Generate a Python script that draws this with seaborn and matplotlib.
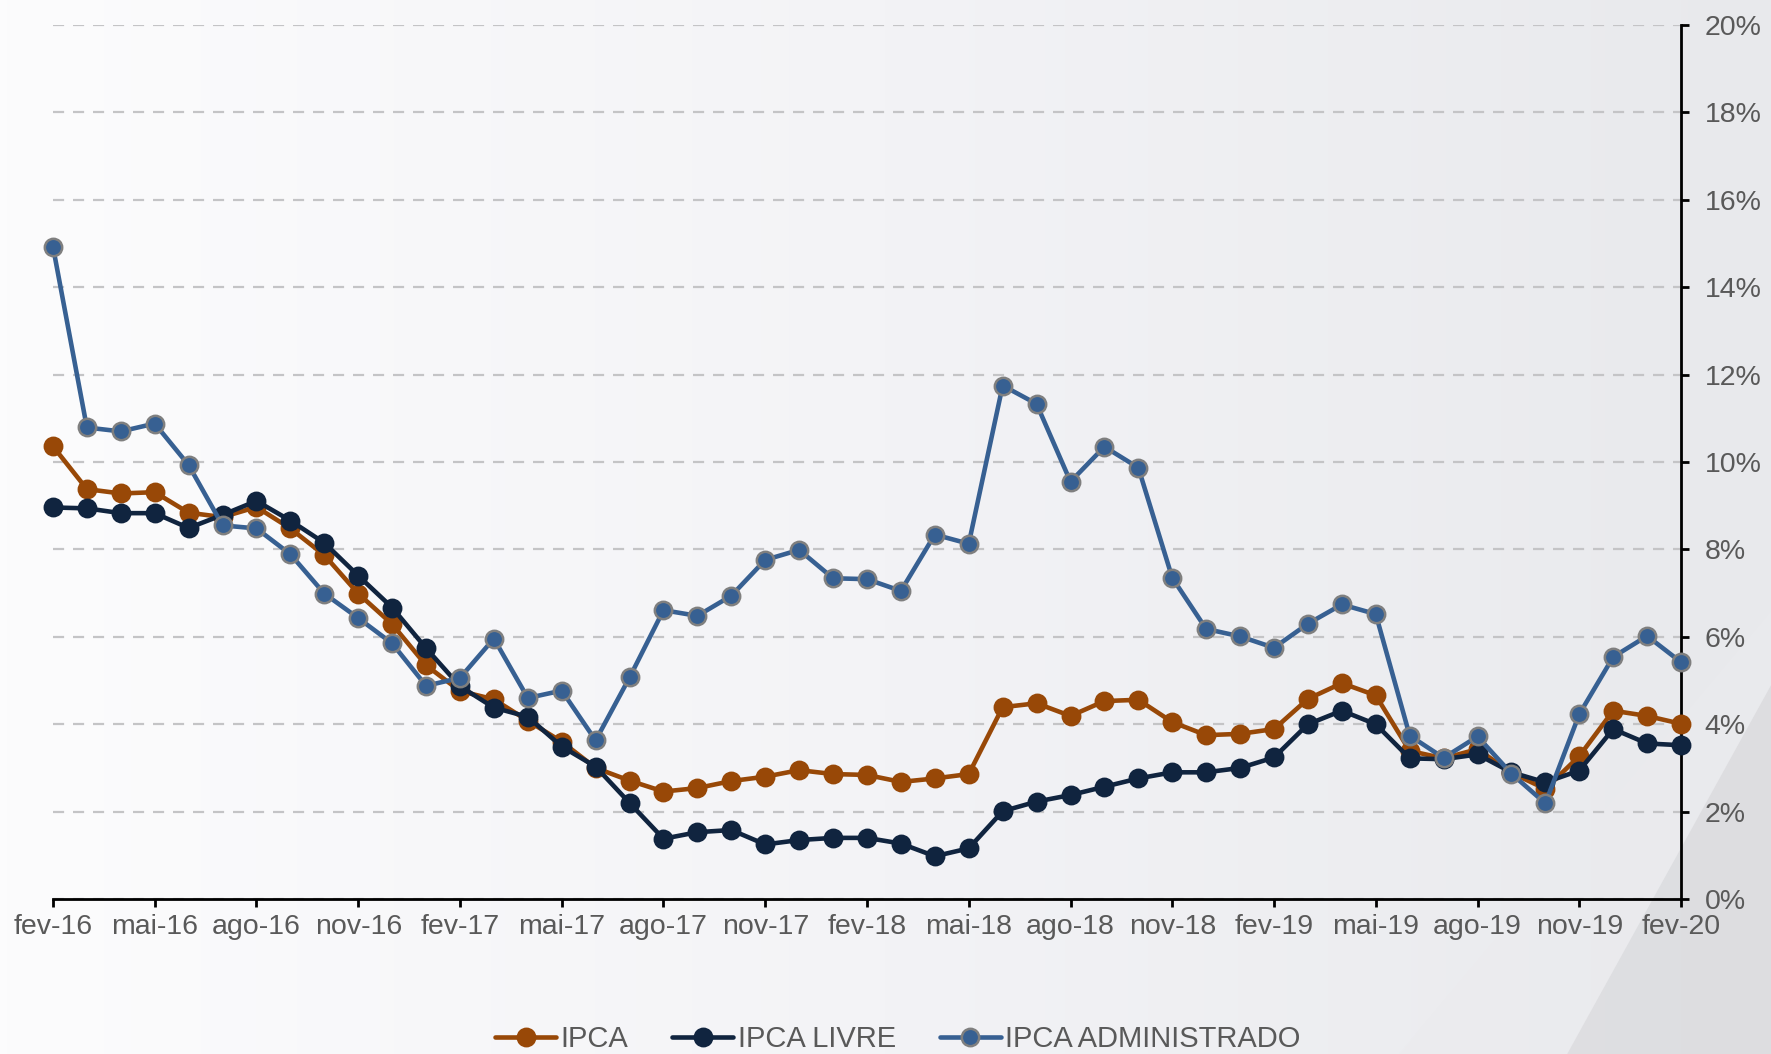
import numpy as np
import matplotlib
matplotlib.use("Agg")
import matplotlib.pyplot as plt
from matplotlib.patches import Polygon
import seaborn as sns

# Monthly data, fev-16 .. fev-20 (12-month inflation, %)
months = ["jan", "fev", "mar", "abr", "mai", "jun", "jul", "ago", "set", "out", "nov", "dez"]
periods = [f"{months[(1 + i) % 12]}-{16 + (1 + i) // 12}" for i in range(49)]

ipca = [10.36, 9.38, 9.28, 9.31, 8.84, 8.74, 8.97, 8.48, 7.87, 6.99, 6.29, 5.35,
        4.76, 4.57, 4.08, 3.60, 3.00, 2.71, 2.46, 2.54, 2.70, 2.80, 2.95, 2.86,
        2.84, 2.68, 2.76, 2.86, 4.39, 4.48, 4.19, 4.53, 4.56, 4.05, 3.75, 3.78,
        3.89, 4.58, 4.94, 4.66, 3.39, 3.22, 3.43, 2.89, 2.52, 3.27, 4.31, 4.19,
        4.01]
ipca_livre = [8.96, 8.94, 8.83, 8.83, 8.49, 8.79, 9.11, 8.66, 8.15, 7.40, 6.67, 5.74,
              4.87, 4.38, 4.17, 3.49, 3.03, 2.20, 1.38, 1.53, 1.58, 1.25, 1.35, 1.40,
              1.40, 1.27, 0.98, 1.16, 2.01, 2.23, 2.38, 2.57, 2.76, 2.90, 2.90, 3.00,
              3.24, 4.00, 4.31, 4.00, 3.22, 3.20, 3.31, 2.90, 2.67, 2.94, 3.89, 3.56,
              3.52]
ipca_adm = [14.93, 10.79, 10.70, 10.88, 9.93, 8.55, 8.48, 7.89, 6.99, 6.43, 5.85, 4.88,
            5.06, 5.96, 4.60, 4.77, 3.63, 5.07, 6.61, 6.48, 6.94, 7.76, 7.99, 7.34,
            7.32, 7.05, 8.34, 8.13, 11.75, 11.33, 9.55, 10.35, 9.87, 7.35, 6.18, 6.01,
            5.75, 6.30, 6.74, 6.52, 3.74, 3.23, 3.72, 2.87, 2.19, 4.23, 5.54, 6.02,
            5.42]

series = [
    ("IPCA", ipca, "#984807", "#984807"),
    ("IPCA LIVRE", ipca_livre, "#10243f", "#10243f"),
    ("IPCA ADMINISTRADO", ipca_adm, "#376092", "#7f7f7f"),
]

sns.set_theme(style="white")
plt.rcParams["font.family"] = ["Liberation Sans", "DejaVu Sans"]

fig = plt.figure(figsize=(17.71, 10.54), dpi=100)

# background gradient with the diagonal band in the lower right corner
bg = fig.add_axes([0, 0, 1, 1], zorder=-10)
grad = np.linspace(0, 1, 256).reshape(1, -1)
cmap = matplotlib.colors.LinearSegmentedColormap.from_list("bg", ["#fcfcfd", "#f3f3f6", "#e8e9ec"])
bg.imshow(grad, aspect="auto", cmap=cmap, extent=[0, 1, 0, 1])
bg.add_patch(Polygon([[1.0, 0.35], [1.0, 0.0], [0.885, 0.0]], closed=True,
                     facecolor="#dcdcdf", edgecolor="none", alpha=0.85))
bg.add_patch(Polygon([[1.0, 0.42], [1.0, 0.35], [0.885, 0.0], [0.79, 0.0]], closed=True,
                     facecolor="#ebebee", edgecolor="none", alpha=0.5))
bg.set_xlim(0, 1)
bg.set_ylim(0, 1)
bg.axis("off")

ax = fig.add_axes([0.0299, 0.147, 0.9193, 0.8293])
ax.set_facecolor("none")

x = np.arange(len(periods))
for i, (name, vals, col, edge) in enumerate(series):
    sns.lineplot(x=x, y=vals, ax=ax, color=col, linewidth=3.3, marker="o",
                 markersize=12.5, markeredgecolor=edge, markeredgewidth=1.8,
                 label=name, clip_on=False, zorder=3 + i)

ax.set_xlim(0, 48)
ax.set_ylim(0, 20)
ax.set_yticks(np.arange(0, 21, 2))
ax.set_yticklabels([f"{v}%" for v in range(0, 21, 2)])
ax.set_xticks(x[::3])
ax.set_xticklabels(periods[::3])
ax.yaxis.tick_right()

ax.yaxis.grid(True, linestyle=(0, (5, 4)), color="#c4c4c6", linewidth=1.6)
ax.xaxis.grid(False)
ax.set_axisbelow(True)

for s in ["left", "top"]:
    ax.spines[s].set_visible(False)
for s in ["bottom", "right"]:
    ax.spines[s].set_color("black")
    ax.spines[s].set_linewidth(2.0)

ax.tick_params(axis="both", direction="out", length=6, width=2.0, color="black",
               labelcolor="#595959", labelsize=20.5)
ax.tick_params(axis="y", pad=11, right=True, left=False)
ax.tick_params(axis="x", pad=5, bottom=True)
ax.set_xlabel("")
ax.set_ylabel("")

ax.get_legend().remove()
handles, labels = ax.get_legend_handles_labels()
fig.legend(handles, labels, loc="center", bbox_to_anchor=(0.507, 0.014), ncol=3,
           frameon=False, fontsize=21, labelcolor="#595959", handlelength=2.1,
           handletextpad=0.15, columnspacing=1.5)

fig.savefig("out.png", dpi=100)
